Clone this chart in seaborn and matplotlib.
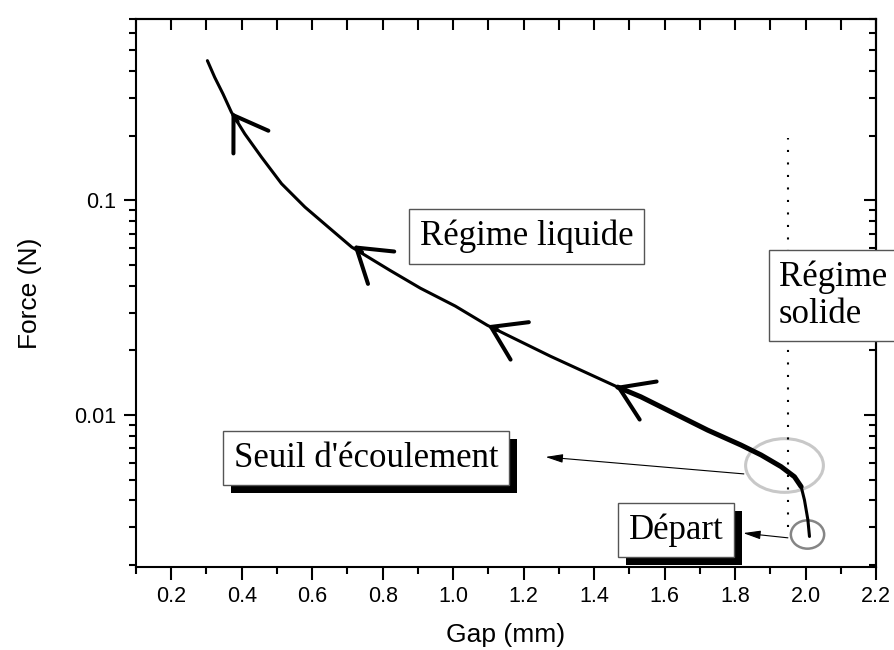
import numpy as np
import matplotlib
matplotlib.use("Agg")
import matplotlib.pyplot as plt
import seaborn as sns
from matplotlib.path import Path
from matplotlib.transforms import Affine2D
from matplotlib.ticker import MultipleLocator, LogLocator, FixedLocator, FixedFormatter, NullFormatter
import matplotlib.patheffects as pe

# courbe force / gap
gap = [0.3026, 0.3233, 0.3469, 0.3708, 0.4087, 0.4562, 0.5131, 0.5794, 0.6457, 0.7122,
       0.821, 0.907, 1.006, 1.097, 1.276, 1.467, 1.5324, 1.6271, 1.7222, 1.8169,
       1.8738, 1.9307, 1.9686, 1.9876, 1.9970, 2.0067, 2.0112]
force = [0.4478, 0.3746, 0.3134, 0.2574, 0.2042, 0.1590, 0.1196, 0.0931, 0.0751, 0.0606,
         0.0472, 0.0390, 0.0322, 0.0262, 0.0188, 0.0135, 0.01217, 0.01018, 0.00851, 0.00725,
         0.00652, 0.00575, 0.00516, 0.00464, 0.00402, 0.00325, 0.00272]
bruit_debut, bruit_fin = 15, 24  # portion bruitee (plus epaisse)

# pointes des fleches le long de la courbe, et angle de la bissectrice (degres, vers le bas)
fleche_gap = [0.371, 0.717, 1.098, 1.461]
fleche_force = [0.2576, 0.0618, 0.0262, 0.01365]
fleche_angle = [57, 39, 26, 24]

# limite solide / liquide
gap_solide = 1.95
force_solide = [0.003, 0.195]

# zones entourees
seuil_gap, seuil_force = 1.939, 0.00585
depart_gap, depart_force = 2.005, 0.0028

# etiquettes
x_ticks = [0.2, 0.4, 0.6, 0.8, 1.0, 1.2, 1.4, 1.6, 1.8, 2.0, 2.2]
y_ticks = [0.01, 0.1]
y_labels = ["0.01", "0.1"]

sns.set_style("ticks")
plt.rcParams["font.family"] = ["Liberation Sans", "DejaVu Sans"]
plt.rcParams["text.color"] = "black"
plt.rcParams["axes.labelcolor"] = "black"
serif = ["Liberation Serif", "DejaVu Serif"]

fig = plt.figure(figsize=(8.95, 6.5), dpi=100)
ax = fig.add_axes([136 / 895, 1 - 567 / 650, 740 / 895, 548 / 650])

# zones entourees (ellipses)
ellipse = Path.unit_circle().transformed(Affine2D().scale(1, 0.69))
petite = Path.unit_circle().transformed(Affine2D().scale(1, 0.85))
ax.plot([seuil_gap], [seuil_force], marker=ellipse, ms=56, mfc="none",
        mec="#c8c8c8", mew=2.2, ls="none", zorder=1)
ax.plot([depart_gap], [depart_force], marker=petite, ms=24, mfc="none",
        mec="#858585", mew=1.8, ls="none", zorder=1)

# ligne pointillee
ax.plot([gap_solide, gap_solide], force_solide, color="k", lw=1.5,
        ls=(0, (1, 5)), zorder=1)

# courbe
sns.lineplot(x=gap, y=force, ax=ax, color="k", lw=2.2, sort=False, zorder=3)
sns.lineplot(x=gap[bruit_debut:bruit_fin], y=force[bruit_debut:bruit_fin], ax=ax,
             color="k", lw=3.6, sort=False, zorder=3)

# fleches (chevrons ouverts)
for gx, fy, ang in zip(fleche_gap, fleche_force, fleche_angle):
    a = np.deg2rad(ang)
    ax.annotate("", xy=(gx, fy), xytext=(8 * np.cos(a), -8 * np.sin(a)),
                textcoords="offset points",
                arrowprops=dict(arrowstyle="->,head_length=23,head_width=15",
                                mutation_scale=1, color="k", lw=2.9,
                                shrinkA=0, shrinkB=0, capstyle="round",
                                joinstyle="round"), zorder=4)

# fleches fines vers les etiquettes
fine = dict(arrowstyle="-|>,head_length=10.5,head_width=2.6", mutation_scale=1,
            color="k", lw=0.8, shrinkA=0, shrinkB=0)
ax.annotate("", xy=(1.262, 0.00638), xytext=(1.825, 0.00532), arrowprops=fine)
ax.annotate("", xy=(1.823, 0.00282), xytext=(1.950, 0.00268), arrowprops=fine)

# boites de texte
boite = dict(boxstyle="square,pad=0.3", fc="white", ec="#555555", lw=1)
ax.text(1.208, 0.0680, "Régime liquide", ha="center", va="center", fontsize=25,
        family=serif, bbox=boite, zorder=5)
ax.text(1.925, 0.0361, "Régime \nsolide", ha="left", va="center", fontsize=25,
        family=serif, bbox=boite, linespacing=1.15, zorder=5)
ombre = [pe.withSimplePatchShadow(offset=(5.8, -5.8), shadow_rgbFace="black", alpha=1.0)]
t1 = ax.text(0.753, 0.00631, "Seuil d'écoulement", ha="center", va="center",
             fontsize=25, family=serif, bbox=boite, zorder=5)
t2 = ax.text(1.633, 0.00292, "Départ", ha="center", va="center", fontsize=25,
             family=serif, bbox=boite, zorder=5)
t1.get_bbox_patch().set_path_effects(ombre)
t2.get_bbox_patch().set_path_effects(ombre)

# axes
ax.set_yscale("log")
ax.set_xlim(0.1, 2.2)
ax.set_ylim(0.00196, 0.7)
ax.xaxis.set_major_locator(FixedLocator(x_ticks))
ax.xaxis.set_major_formatter(FixedFormatter([f"{v:.1f}" for v in x_ticks]))
ax.xaxis.set_minor_locator(MultipleLocator(0.1))
ax.yaxis.set_major_locator(FixedLocator(y_ticks))
ax.yaxis.set_major_formatter(FixedFormatter(y_labels))
ax.yaxis.set_minor_locator(LogLocator(base=10, subs=np.arange(2, 10)))
ax.yaxis.set_minor_formatter(NullFormatter())
ax.tick_params(which="major", direction="out", length=9, width=1.5, labelsize=15.5,
               pad=5, colors="k")
ax.tick_params(which="minor", direction="out", length=5, width=1.5, colors="k")
for s in ax.spines.values():
    s.set_linewidth(1.5)
    s.set_color("k")

haut = ax.secondary_xaxis("top")
haut.xaxis.set_major_locator(FixedLocator(x_ticks))
haut.xaxis.set_minor_locator(MultipleLocator(0.1))
haut.tick_params(which="both", direction="in", length=8, width=1.5, labeltop=False,
                 colors="k")
haut.spines["top"].set_linewidth(1.5)
haut.spines["top"].set_color("k")
droite = ax.secondary_yaxis("right")
droite.yaxis.set_major_locator(FixedLocator(y_ticks))
droite.yaxis.set_minor_locator(LogLocator(base=10, subs=np.arange(2, 10)))
droite.tick_params(which="major", direction="in", length=9, width=1.5, labelright=False,
                   colors="k")
droite.tick_params(which="minor", direction="in", length=5, width=1.5, labelright=False,
                   colors="k")
droite.spines["right"].set_linewidth(1.5)
droite.spines["right"].set_color("k")

ax.set_xlabel("Gap (mm)", fontsize=19, labelpad=11)
ax.set_ylabel("Force (N)", fontsize=19, labelpad=23)

fig.savefig("out.png", dpi=100)
